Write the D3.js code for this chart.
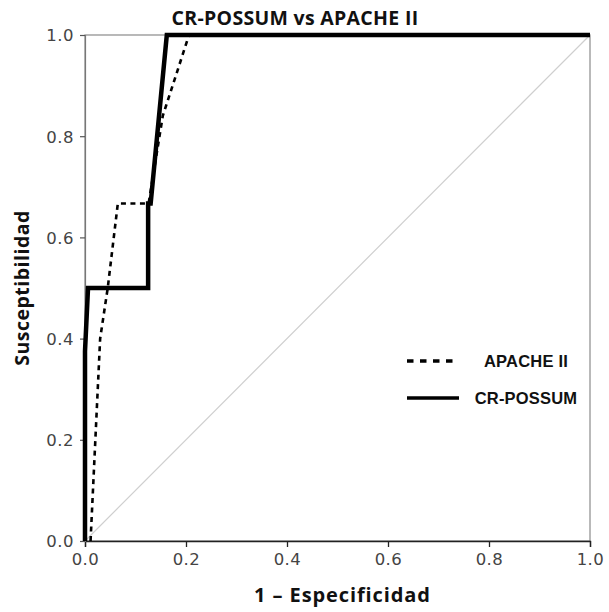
<!DOCTYPE html>
<html>
<head>
<meta charset="utf-8">
<script src="https://cdn.jsdelivr.net/npm/d3@7"></script>
<style>
    body { margin: 0; background: #fff; }
    .tick text { font-family: "DejaVu Sans", sans-serif; font-size: 16.5px; letter-spacing: 0.5px; fill: #444; }
    .axis-title { font-family: "Open Sans", sans-serif; font-weight: bold; fill: #111; }
    .legend text { font-family: "Liberation Sans", Arial, sans-serif; font-weight: bold; font-size: 16.5px; letter-spacing: 0.2px; fill: #111; }
</style>
</head>
<body>
<div id="chart"></div>
<script>

// ROC points
let apacheFpr = [0.011, 0.03, 0.045, 0.065, 0.126, 0.154, 0.206, 1.0];
let apacheTpr = [0, 0.4, 0.5, 0.667, 0.667, 0.84, 1.0, 1.0];

let possumFpr = [0, 0, 0.006, 0.125, 0.125, 0.13, 0.162, 1.0];
let possumTpr = [0, 0.375, 0.5, 0.5, 0.667, 0.667, 1.0, 1.0];

let tickValues = [0, 0.2, 0.4, 0.6, 0.8, 1.0];
let seriesNames = ["APACHE II", "CR-POSSUM"];

let margin = {top: 35, right: 19, bottom: 71, left: 85};
let width = 609 - margin.left - margin.right;
let height = 612 - margin.top - margin.bottom;

let svg = d3.select("#chart").append("svg")
    .attr("width", 609)
    .attr("height", 612);

let g = svg.append("g")
    .attr("transform", `translate(${margin.left}, ${margin.top})`);

let x = d3.scaleLinear().domain([0, 1]).range([0, width]);
let y = d3.scaleLinear().domain([0, 1]).range([height, 0]);

// frame
g.append("rect")
    .attr("x", 0).attr("y", 0)
    .attr("width", width).attr("height", height)
    .attr("fill", "none")
    .attr("stroke", "#8a8a8a")
    .attr("stroke-width", 1.2);

// reference diagonal
g.append("line")
    .attr("x1", x(0)).attr("y1", y(0))
    .attr("x2", x(1)).attr("y2", y(1))
    .attr("stroke", "#cfcfcf")
    .attr("stroke-width", 1.2);

// axes
let xAxis = g.append("g")
    .attr("class", "axis x-axis")
    .attr("transform", `translate(0, ${height})`)
    .call(d3.axisBottom(x).tickValues(tickValues).tickFormat(d3.format(".1f")).tickSize(6).tickPadding(6));

let yAxis = g.append("g")
    .attr("class", "axis y-axis")
    .call(d3.axisLeft(y).tickValues(tickValues).tickFormat(d3.format(".1f")).tickSize(5).tickPadding(6));

xAxis.select(".domain").attr("stroke", "#222").attr("stroke-width", 1.3);
xAxis.selectAll(".tick line").attr("stroke", "#222").attr("stroke-width", 1.3);
yAxis.select(".domain").attr("stroke", "#777").attr("stroke-width", 1.2);
yAxis.selectAll(".tick line").attr("stroke", "#555").attr("stroke-width", 1.2);
yAxis.selectAll(".tick text").attr("dy", "0.36em");

// curves
let line = d3.line()
    .x(d => x(d[0]))
    .y(d => y(d[1]));

let apachePts = apacheFpr.map((v, i) => [v, apacheTpr[i]]);
let possumPts = possumFpr.map((v, i) => [v, possumTpr[i]]);

g.append("path")
    .datum(apachePts)
    .attr("d", line)
    .attr("fill", "none")
    .attr("stroke", "#000")
    .attr("stroke-width", 2.6)
    .attr("stroke-dasharray", "5,4.5");

g.append("path")
    .datum(possumPts)
    .attr("d", line)
    .attr("fill", "none")
    .attr("stroke", "#000")
    .attr("stroke-width", 4.5)
    .attr("stroke-linejoin", "miter");

// titles
svg.append("text")
    .attr("class", "axis-title")
    .attr("x", 295)
    .attr("y", 25)
    .attr("text-anchor", "middle")
    .style("font-size", "19.5px")
    .style("letter-spacing", "0.3px")
    .text("CR-POSSUM vs APACHE II");

svg.append("text")
    .attr("class", "axis-title")
    .attr("x", margin.left + width / 2 + 5)
    .attr("y", 602)
    .attr("text-anchor", "middle")
    .style("font-size", "20px")
    .style("letter-spacing", "0.9px")
    .text("1 – Especificidad");

svg.append("text")
    .attr("class", "axis-title")
    .attr("transform", `translate(29, ${margin.top + height / 2}) rotate(-90)`)
    .attr("text-anchor", "middle")
    .style("font-size", "19.5px")
    .style("letter-spacing", "0.5px")
    .text("Susceptibilidad");

// legend
let legend = svg.append("g").attr("class", "legend");
let legendRows = [
    {name: seriesNames[0], dash: "6.5,6.5", y: 361},
    {name: seriesNames[1], dash: null, y: 398}
];

legend.selectAll("line")
    .data(legendRows)
    .enter().append("line")
    .attr("x1", 407).attr("x2", 459)
    .attr("y1", d => d.y).attr("y2", d => d.y)
    .attr("stroke", "#000")
    .attr("stroke-width", 3.6)
    .attr("stroke-dasharray", d => d.dash);

legend.selectAll("text")
    .data(legendRows)
    .enter().append("text")
    .attr("x", 526)
    .attr("y", d => d.y + 6)
    .attr("text-anchor", "middle")
    .text(d => d.name);

</script>
</body>
</html>
